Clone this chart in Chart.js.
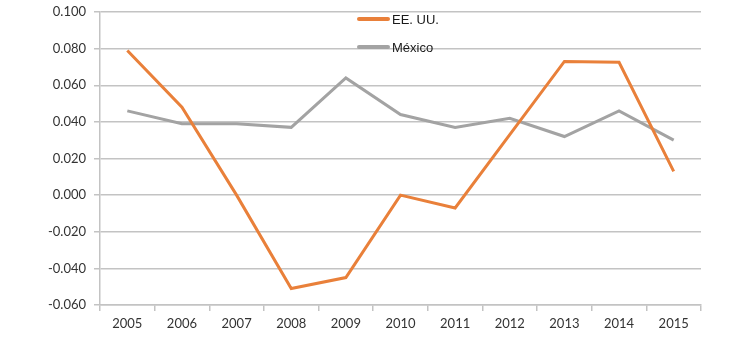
<!DOCTYPE html>
<html>
<head>
<meta charset="utf-8">
<script src="https://cdn.jsdelivr.net/npm/chart.js@4.4.1/dist/chart.umd.min.js"></script>
<style>
  html, body { margin: 0; padding: 0; background: #fff; }
  #wrap { position: relative; width: 749px; height: 343px; }
  #c { display: block; }
  .leg { position: absolute; left: 357px; font-family: "Liberation Sans", Arial, sans-serif; font-size: 13px; color: #1a1a1a; display: flex; align-items: center; white-space: nowrap; }
  .leg .sw { width: 33px; height: 4px; border-radius: 2px; margin-right: 2px; }
</style>
</head>
<body>
<div id="wrap">
  <canvas id="c" width="749" height="343"></canvas>
</div>
<script>
const years = ['2005','2006','2007','2008','2009','2010','2011','2012','2013','2014','2015'];
const usaLabel = 'EE. UU.';
const mexicoLabel = 'México';
const usa = [0.079, 0.048, 0.000, -0.051, -0.045, 0.000, -0.007, 0.033, 0.073, 0.0725, 0.013];
const mexico = [0.046, 0.039, 0.039, 0.037, 0.064, 0.044, 0.037, 0.042, 0.032, 0.046, 0.030];
const yMin = -0.06;
const yMax = 0.1;
const yStep = 0.02;

const gridColor = '#c3c3c3';
const tickFont = { family: 'Lato, "Open Sans", sans-serif', size: 13, lineHeight: 1 };

const chart = new Chart(document.getElementById('c'), {
  type: 'line',
  data: {
    labels: years,
    datasets: [
      { label: usaLabel, data: usa, borderColor: '#E9803A', backgroundColor: '#E9803A', borderWidth: 3, pointRadius: 0, tension: 0, fill: false },
      { label: mexicoLabel, data: mexico, borderColor: '#A3A3A3', backgroundColor: '#A3A3A3', borderWidth: 3, pointRadius: 0, tension: 0, fill: false }
    ]
  },
  options: {
    responsive: false,
    animation: false,
    devicePixelRatio: 1,
    layout: { padding: { top: 12, right: 48, left: 0, bottom: 0 } },
    plugins: { legend: { display: false }, tooltip: { enabled: false } },
    scales: {
      x: {
        type: 'category',
        offset: true,
        grid: { offset: true, drawOnChartArea: false, drawTicks: true, tickLength: 6, color: gridColor, lineWidth: 1.5 },
        border: { display: true, color: gridColor, width: 1.5 },
        ticks: { font: tickFont, color: '#333', padding: 6, maxRotation: 0 },
        afterFit: s => { s.height = 38; }
      },
      y: {
        min: yMin,
        max: yMax,
        grid: { color: gridColor, lineWidth: 1.5, tickLength: 6 },
        border: { display: true, color: gridColor, width: 1.5 },
        ticks: { stepSize: yStep, font: tickFont, color: '#333', padding: 8, callback: v => Number(v).toFixed(3) },
        afterFit: s => { s.width = 100; s.paddingTop = 0; s.paddingBottom = 0; }
      }
    }
  }
});

// HTML legend built from the datasets
const wrap = document.getElementById('wrap');
const legendTops = [19, 47];
chart.data.datasets.forEach((ds, i) => {
  const d = document.createElement('div');
  d.className = 'leg';
  d.style.top = (legendTops[i] - 8) + 'px';
  d.style.height = '16px';
  const sw = document.createElement('span');
  sw.className = 'sw';
  sw.style.background = ds.borderColor;
  const t = document.createElement('span');
  t.textContent = ds.label;
  d.appendChild(sw);
  d.appendChild(t);
  wrap.appendChild(d);
});
</script>
</body>
</html>
